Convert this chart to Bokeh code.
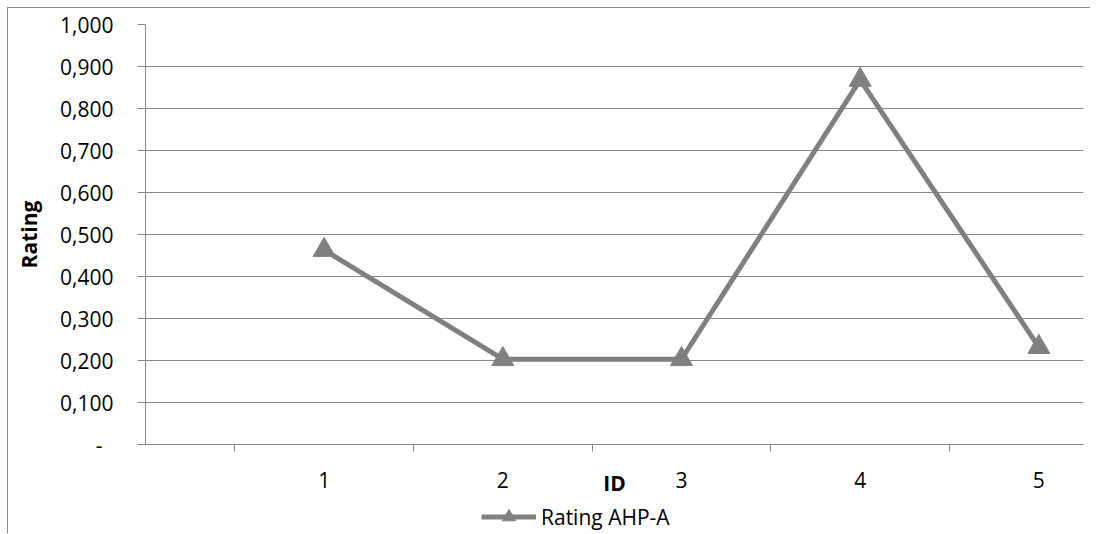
from bokeh.plotting import figure
from bokeh.layouts import column
from bokeh.models import Range1d, FixedTicker, CustomJSTickFormatter, Legend, LegendItem
from bokeh.embed import file_html
from bokeh.resources import INLINE

ids = [1, 2, 3, 4, 5]
ratings = [0.463, 0.203, 0.203, 0.868, 0.232]
series_name = "Rating AHP-A"
y_ticks = [0.0, 0.1, 0.2, 0.3, 0.4, 0.5, 0.6, 0.7, 0.8, 0.9, 1.0]
x_minor = [0.5, 1.5, 2.5, 3.5, 4.5]

GRAY = "#808080"
AX = "#878787"
FONT = "Open Sans"
FS = "21px"

p = figure(width=1082, height=492, output_backend="svg", toolbar_location=None,
           x_range=Range1d(0, 5.25), y_range=Range1d(0, 1.0),
           min_border_left=137, min_border_right=7, min_border_top=16, min_border_bottom=56)
p.outline_line_color = None
p.background_fill_color = "white"
p.border_fill_color = "white"

line_style = dict(line_color=GRAY, line_width=5)
mark_style = dict(marker="triangle", size=22, fill_color=GRAY, line_color=GRAY)
p.line(ids, ratings, **line_style)
p.scatter(ids, ratings, **mark_style)

# y axis
ya = p.yaxis[0]
ya.ticker = FixedTicker(ticks=y_ticks)
ya.formatter = CustomJSTickFormatter(code="""
if (Math.abs(tick) < 1e-9) { return "-\\u00a0\\u00a0"; }
return tick.toFixed(3).replace(".", ",");
""")
ya.axis_line_color = AX
ya.major_tick_line_color = AX
ya.major_tick_out = 8
ya.major_tick_in = 0
ya.minor_tick_line_color = None
ya.major_label_standoff = 24
ya.major_label_text_font = FONT
ya.major_label_text_font_size = FS
ya.major_label_text_color = "black"
ya.axis_label = "Rating"
ya.axis_label_text_font = FONT
ya.axis_label_text_font_style = "bold"
ya.axis_label_text_font_size = FS
ya.axis_label_text_color = "black"
ya.axis_label_standoff = 14

# x axis
xa = p.xaxis[0]
xa.ticker = FixedTicker(ticks=ids, minor_ticks=x_minor)
xa.axis_line_color = AX
xa.major_tick_line_color = None
xa.major_tick_out = 0
xa.major_tick_in = 0
xa.minor_tick_line_color = AX
xa.minor_tick_out = 7
xa.minor_tick_in = 0
xa.major_label_standoff = 20
xa.major_label_text_font = FONT
xa.major_label_text_font_size = FS
xa.major_label_text_color = "black"
xa.axis_label = "ID"
xa.axis_label_text_font = FONT
xa.axis_label_text_font_style = "bold"
xa.axis_label_text_font_size = FS
xa.axis_label_text_color = "black"
xa.axis_label_standoff = -22

p.xgrid.grid_line_color = None
p.ygrid.ticker = FixedTicker(ticks=y_ticks)
p.ygrid.grid_line_color = AX
p.ygrid.grid_line_width = 1

# legend strip below the chart (same series styling; its sample point lies outside this strip's view)
lg = figure(width=1082, height=33, output_backend="svg", toolbar_location=None,
            x_range=Range1d(100, 101), y_range=Range1d(100, 101),
            min_border_left=0, min_border_right=0, min_border_top=0, min_border_bottom=0,
            x_axis_type=None, y_axis_type=None)
lg.outline_line_color = None
lg.grid.visible = False
lr = lg.line(ids[:1], ratings[:1], **line_style)
mr = lg.scatter(ids[:1], ratings[:1], **mark_style)
legend = Legend(items=[LegendItem(label=series_name, renderers=[lr, mr])],
                location=(336, 0), orientation="horizontal",
                glyph_width=55, glyph_height=33, label_standoff=5, padding=0, margin=0,
                border_line_color=None, background_fill_alpha=0,
                label_text_font=FONT, label_text_font_size=FS, label_text_color="black")
lg.add_layout(legend, "center")

layout = column(p, lg, spacing=0,
                styles={"margin-left": "7px", "margin-top": "7px",
                        "border-left": "1px solid #878787", "border-top": "1px solid #878787"})

open("out.html", "w").write(file_html(layout, INLINE))
